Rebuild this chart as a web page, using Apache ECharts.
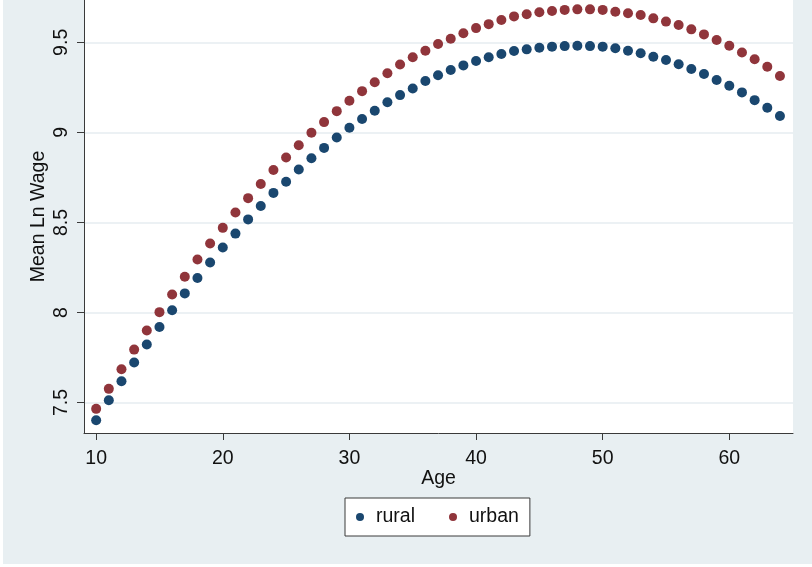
<!DOCTYPE html>
<html>
<head>
<meta charset="utf-8">
<script src="https://cdn.jsdelivr.net/npm/echarts@6/dist/echarts.min.js"></script>
<style>
html,body{margin:0;padding:0;background:#ffffff;width:812px;height:567px;overflow:hidden;}
#chart{position:absolute;left:3px;top:0;width:809px;height:564px;}
</style>
</head>
<body>
<div id="chart"></div>
<script>
const ages = [10,11,12,13,14,15,16,17,18,19,20,21,22,23,24,25,26,27,28,29,30,31,32,33,34,35,36,37,38,39,40,41,42,43,44,45,46,47,48,49,50,51,52,53,54,55,56,57,58,59,60,61,62,63,64];
const rural = [7.402,7.513,7.618,7.722,7.822,7.920,8.013,8.106,8.192,8.278,8.361,8.438,8.517,8.591,8.664,8.726,8.794,8.856,8.914,8.972,9.026,9.074,9.120,9.167,9.207,9.244,9.285,9.317,9.346,9.372,9.396,9.417,9.435,9.452,9.461,9.470,9.476,9.479,9.481,9.479,9.476,9.467,9.453,9.439,9.420,9.402,9.378,9.352,9.324,9.291,9.259,9.222,9.179,9.137,9.091];
const urban = [7.465,7.576,7.685,7.794,7.900,8.002,8.100,8.198,8.294,8.383,8.470,8.555,8.635,8.713,8.791,8.861,8.929,8.998,9.057,9.118,9.176,9.229,9.278,9.328,9.377,9.417,9.453,9.491,9.520,9.550,9.579,9.601,9.624,9.644,9.656,9.667,9.674,9.680,9.683,9.683,9.680,9.670,9.661,9.652,9.633,9.615,9.596,9.572,9.544,9.513,9.481,9.444,9.406,9.364,9.313];
const xTicks = [10,20,30,40,50,60];
const yTicks = [7.5,8,8.5,9,9.5];
const seriesNames = ['rural','urban'];
const colors = ['#1a476f','#90353b'];

const font = 'Liberation Sans, Arial, sans-serif';
const axisColor = '#3a3a3a';
const chart = echarts.init(document.getElementById('chart'), null, {renderer:'canvas'});
chart.setOption({
  backgroundColor: '#e8eff2',
  animation: false,
  textStyle: {fontFamily: font},
  grid: {left: 81, right: 19, top: 0, bottom: 131, show: true, backgroundColor: '#ffffff', borderWidth: 0},
  legend: {
    data: seriesNames,
    left: 342, top: 498,
    orient: 'horizontal',
    icon: 'circle',
    itemWidth: 22, itemHeight: 8, itemGap: 34,
    backgroundColor: '#ffffff',
    borderColor: '#3a3a3a', borderWidth: 1, borderRadius: 0,
    padding: [9, 11, 9, 11],
    textStyle: {fontFamily: font, fontSize: 19.5, color: '#111', padding: [0,0,0,0]}
  },
  xAxis: {
    type: 'value', min: 9.04, max: 65.03,
    name: 'Age', nameLocation: 'middle', nameGap: 36, nameMoveOverlap: false,
    nameTextStyle: {fontFamily: font, fontSize: 19.5, color: '#111'},
    axisLine: {show: true, lineStyle: {color: axisColor, width: 1}},
    axisTick: {show: true, length: 7, lineStyle: {color: axisColor}, customValues: xTicks},
    axisLabel: {customValues: xTicks, margin: 16, fontFamily: font, fontSize: 19.5, color: '#111'},
    splitLine: {show: false}
  },
  yAxis: {
    type: 'value', min: 7.331, max: 9.735,
    name: 'Mean Ln Wage', nameLocation: 'middle', nameGap: 35, nameMoveOverlap: false,
    nameTextStyle: {fontFamily: font, fontSize: 19.5, color: '#111'},
    axisLine: {show: true, lineStyle: {color: axisColor, width: 1}},
    axisTick: {show: true, length: 7, lineStyle: {color: axisColor}, customValues: yTicks},
    axisLabel: {customValues: yTicks, rotate: 90, margin: 12, fontFamily: font, fontSize: 19.5, color: '#111'},
    splitLine: {show: true, lineStyle: {color: '#e6edf0', width: 1.5}}
  },
  series: [
    {name: seriesNames[0], type: 'scatter', symbol: 'circle', symbolSize: 10,
     itemStyle: {color: colors[0], opacity: 1}, data: ages.map((a,i)=>[a, rural[i]])},
    {name: seriesNames[1], type: 'scatter', symbol: 'circle', symbolSize: 10,
     itemStyle: {color: colors[1], opacity: 1}, data: ages.map((a,i)=>[a, urban[i]])}
  ]
});
</script>
</body>
</html>
